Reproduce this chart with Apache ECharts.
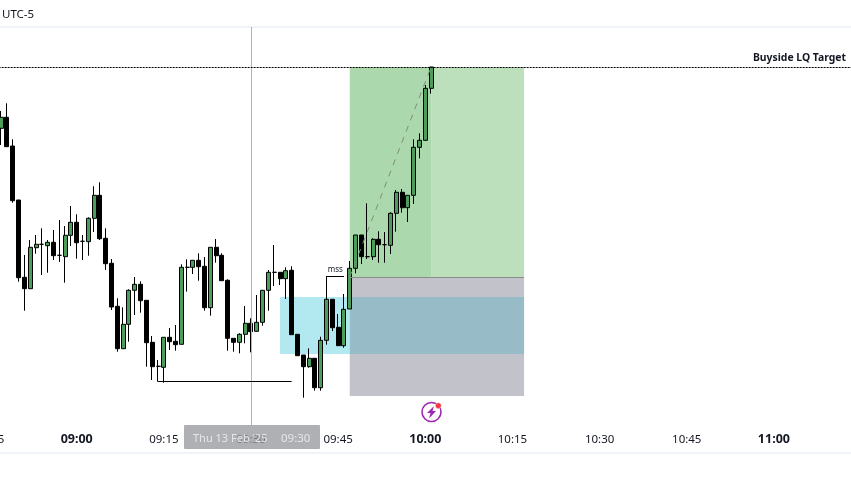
<!DOCTYPE html>
<html>
<head>
<meta charset="utf-8">
<style>
  html, body { margin: 0; padding: 0; background: #fff; overflow: hidden; }
  #chart { width: 851px; height: 488px; }
</style>
<script src="https://cdn.jsdelivr.net/npm/echarts@6/dist/echarts.min.js"></script>
</head>
<body>
<div id="chart"></div>
<script>
// one minute bars, first bar is 08:47. no price scale in the picture so levels are
// in plot units read off the candles
const firstBar = '08:47';
const open = [359.7,370.7,342,288,210.7,199.3,240.3,243.7,242.3,245.7,232.7,231.3,252.7,
  265.7,246.7,246.3,269.7,292.7,249.7,224.7,181.7,139.3,163.7,197.7,203.7,187.7,145.7,121.7,120.7,150.7,146.7,143.7,220.7,220.7,227.7,221.7,180.3,240.7,232.7,207.7,149.7,145.7,153.7,164.7,156.7,165.7,197.7,215.7,215.7,209.3,217.7,153.7,133,121.3,129.7,100.3,147.7,188.7,160.7,142.3,
  179,219.7,253,231.3,231.3,248.7,243.3,242.7,274.7,295.7,280.3,292.7,340.7,347.7,399.7];
const close = [370.7,341.3,287.3,210.3,199.3,240.7,243.7,243.7,245.7,232.3,232.7,252.7,265.7,
  245.3,246.7,269.7,292.7,249.3,224.3,181,139.3,163.7,197.7,203.7,187.3,145.3,121.3,121.7,150.7,146.3,143.3,220.7,220.7,227.7,221.3,180.3,240.7,232.3,207.3,149.7,145.7,153.7,164.7,156.3,165.7,197.7,215.7,215.7,209.3,217.3,153.3,132.3,121.3,129.7,100.3,147.7,188.7,160.3,142.3,178.7,
  219.7,253,231.3,231.3,248.7,243.3,243.3,274.7,295.7,280.3,292.7,340.7,347.7,399.7,421];
const low = [343,341.3,285.3,206.3,177.3,199.3,234.3,213,215.3,228,226,205.3,242,
  229.3,228,232.3,256,248,218,178,136.3,139.3,146.3,173,175.3,121.3,108,106.3,105.3,138,137.3,143.7,196.3,214,207.3,177.3,172.3,225.3,207.3,137.3,136.3,134.7,144.7,135.7,156.3,162.3,177.3,202,203,189,153.3,132.3,90.3,120.3,97.3,97.3,143.3,157,142.3,140.3,
  179,214.7,224,229,228,225.3,225.3,234,256.3,275.3,266,284,329.7,347.7,394.3];
const high = [377,384.7,348.7,288,233,248,253,259.7,248,258,268,262,282,
  273.7,253,270.7,301.7,305.7,259.7,229,189.7,180.7,198.7,211,206.7,187.7,152,128,150.7,160,163,223.7,228.7,227.7,234.7,231,240.7,249,234.7,208.7,149.7,154.7,182,169.7,193,197.7,218,243,215.7,220.7,221.7,153.7,133,139.7,129.7,151.3,212,188.7,174,194,
  227,253,253,284.7,249.7,256.7,256,275.7,298,299,292.7,348.7,354.7,403,421];

const tickLabels = ['08:45','09:00','09:15','09:30','09:45','10:00','10:15','10:30','10:45','11:00'];
const boldTicks = ['09:00','10:00','11:00'];

// position tool levels
const targetLevel = 421, entryLevel = 211, stopLevel = 92;
const boxTop = 191, boxBottom = 134;
const sweepLevel = 107, mssLevel = 212;

const categories = [];
for (let m = 8 * 60 + 45; m <= 11 * 60 + 13; m++) {
  categories.push(String(Math.floor(m / 60)).padStart(2, '0') + ':' + String(m % 60).padStart(2, '0'));
}
const pad = categories.indexOf(firstBar);
const candles = categories.map((c, i) => {
  const k = i - pad;
  return k >= 0 && k < open.length ? [open[k], close[k], low[k], high[k]] : ['-', '-', '-', '-'];
});

const font = '"Noto Sans", sans-serif';
const chart = echarts.init(document.getElementById('chart'), null, { renderer: 'canvas' });

const option = {
  animation: false,
  backgroundColor: '#ffffff',
  grid: {
    left: -13.36, width: 865.69, top: 27, height: 426,
    outerBoundsMode: 'none',
    show: true, borderColor: '#f0f3fa', borderWidth: 2
  },
  xAxis: {
    type: 'category',
    data: categories,
    axisLine: { show: false },
    axisTick: { show: false },
    splitLine: { show: false },
    axisLabel: {
      inside: true,
      margin: 7.5,
      interval: (i, v) => tickLabels.includes(v),
      hideOverlap: false,
      color: '#131722',
      fontFamily: font,
      fontSize: 11.5,
      formatter: v => boldTicks.includes(v) ? `{b|${v}}` : v,
      rich: { b: { fontWeight: 'bold', fontSize: 12.5, fontFamily: font, color: '#131722' } }
    }
  },
  yAxis: { type: 'value', min: 35, max: 461, show: false, splitLine: { show: false } },
  series: [{
    type: 'candlestick',
    data: candles,
    barWidth: 4.5,
    clip: true,
    itemStyle: {
      color: '#4c9c5a', color0: '#000000',
      borderColor: '#000000', borderColor0: '#000000', borderWidth: 1
    },
    markArea: {
      silent: true,
      label: { show: false },
      data: [
        [{ xAxis: '09:47', yAxis: targetLevel, itemStyle: { color: '#abd8ac' } }, { xAxis: '10:01', yAxis: entryLevel }],
        [{ xAxis: '10:01', yAxis: targetLevel, itemStyle: { color: '#bce0bc' } }, { xAxis: '10:17', yAxis: entryLevel }],
        [{ xAxis: '09:47', yAxis: entryLevel, itemStyle: { color: '#c2c2ca' } }, { xAxis: '10:17', yAxis: stopLevel }],
        [{ xAxis: '09:35', yAxis: boxTop, itemStyle: { color: '#b2e8f0' } }, { xAxis: '09:47', yAxis: boxBottom }],
        [{ xAxis: '09:47', yAxis: boxTop, itemStyle: { color: '#97bcc8' } }, { xAxis: '10:17', yAxis: boxBottom }]
      ]
    },
    markLine: {
      silent: true,
      symbol: 'none',
      animation: false,
      data: [
        // crosshair
        [{ xAxis: '09:30', yAxis: 461, lineStyle: { color: '#b4b4b8', width: 1, type: 'solid' }, label: { show: false } },
         { xAxis: '09:30', yAxis: 63 }],
        // target line
        { yAxis: targetLevel, lineStyle: { color: '#000000', width: 1, type: [2, 1] },
          label: { show: true, position: 'insideEndTop', distance: [6.3, 4], formatter: 'Buyside LQ Target',
            color: '#131722', fontWeight: 'bold', fontFamily: font, fontSize: 10.4 } },
        // entry line
        [{ xAxis: '09:47', yAxis: entryLevel, lineStyle: { color: '#8d8d8d', width: 1, type: 'solid' }, label: { show: false } },
         { xAxis: '10:17', yAxis: entryLevel }],
        // position path
        [{ xAxis: '09:47', yAxis: entryLevel, lineStyle: { color: '#808c80', width: 1, type: [6, 6] }, label: { show: false } },
         { xAxis: '10:01', yAxis: targetLevel }],
        // sell side sweep
        [{ xAxis: '09:14', yAxis: sweepLevel, lineStyle: { color: '#000000', width: 1, type: 'solid' }, label: { show: false } },
         { xAxis: '09:37', yAxis: sweepLevel }],
        // mss
        [{ xAxis: '09:43', yAxis: mssLevel, lineStyle: { color: '#000000', width: 1, type: 'solid' },
           label: { show: true, position: 'insideMiddleTop', distance: 2, formatter: 'mss', color: '#131722', fontFamily: font, fontSize: 8 } },
         { xAxis: '09:46', yAxis: mssLevel }]
      ]
    }
  }],
  graphic: [
    { type: 'text', left: 2, top: 9, z: 20, style: { text: 'UTC-5', fill: '#131722', font: '11.5px ' + font } },
    // crosshair time label
    { type: 'rect', z: 20, shape: { x: 184, y: 425, width: 136, height: 24, r: 1 }, style: { fill: 'rgba(150,151,156,0.76)' } },
    { type: 'text', z: 21, x: 193, y: 433, style: { text: "Thu 13 Feb '25", fill: '#e4e6ea', font: '11px ' + font } },
    { type: 'text', z: 21, x: 281, y: 433, style: { text: '09:30', fill: '#e4e6ea', font: '11.5px ' + font } },
    // alert icon
    { type: 'circle', z: 20, shape: { cx: 431.5, cy: 412, r: 9.5 }, style: { fill: '#fff', stroke: '#9c27b0', lineWidth: 1.6 } },
    { type: 'polygon', z: 21, shape: { points: [[434, 406], [427, 413], [430.5, 413], [429, 418.5], [436, 411], [432.5, 411]] }, style: { fill: '#9c27b0' } },
    { type: 'circle', z: 22, shape: { cx: 438.3, cy: 405.7, r: 3 }, style: { fill: '#f23645', stroke: '#fff', lineWidth: 0.5 } }
  ]
};
chart.setOption(option);
</script>
</body>
</html>
